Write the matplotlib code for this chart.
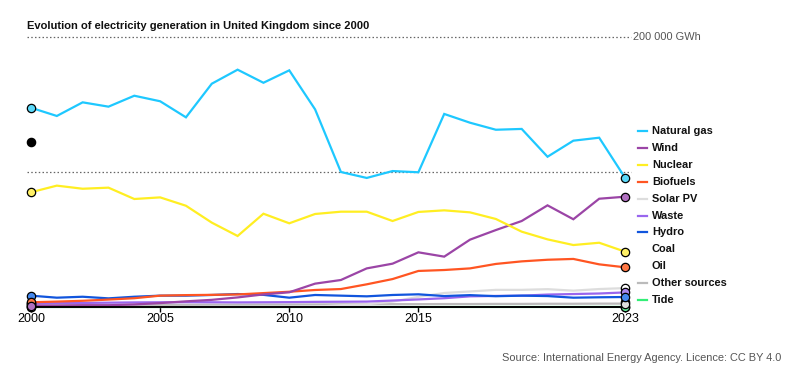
import matplotlib
matplotlib.use("Agg")
import matplotlib.pyplot as plt
from matplotlib.lines import Line2D
import numpy as np

plt.rcParams['font.family'] = ['Liberation Sans', 'DejaVu Sans']

years = list(range(2000, 2024))

# TWh (x1000 -> GWh below)
natural_gas = [147.6, 141.5, 151.6, 148.4, 156.5, 152.4, 140.5, 165.4, 175.8, 166.1, 175.3, 146.4,
               100.0, 95.6, 100.7, 99.8, 143.0, 136.5, 131.3, 131.9, 111.3, 123.2, 125.4, 95.8]
wind = [0.9, 1.0, 1.3, 1.3, 1.9, 2.9, 4.2, 5.3, 7.1, 9.3, 10.9, 17.3,
        20.0, 28.6, 32.1, 40.5, 37.3, 49.9, 57.0, 63.7, 75.3, 65.0, 80.2, 81.7]
nuclear = [85.0, 89.9, 87.6, 88.4, 80.0, 81.2, 75.0, 62.5, 52.6, 69.1, 62.0, 68.9,
           70.6, 70.6, 63.7, 70.4, 71.6, 70.1, 65.2, 55.8, 50.1, 45.9, 47.6, 41.0]
biofuels = [3.5, 4.0, 4.6, 5.5, 6.5, 8.4, 8.8, 9.0, 9.3, 10.3, 11.3, 12.6,
            13.3, 16.8, 20.7, 26.7, 27.4, 28.6, 31.9, 33.8, 35.0, 35.6, 31.6, 29.4]
solar_pv = [0, 0, 0, 0, 0, 0, 0, 0, 0, 0, 0.04, 0.24,
            1.35, 2.0, 4.0, 7.5, 10.4, 11.5, 12.7, 12.7, 13.2, 12.1, 13.3, 14.0]
waste = [2.5, 2.8, 3.0, 3.2, 3.4, 3.5, 3.6, 3.5, 3.4, 3.5, 3.6, 3.8,
         3.9, 4.0, 4.8, 5.6, 6.5, 7.9, 8.2, 8.4, 9.2, 9.6, 10.0, 10.8]
hydro = [8.4, 6.9, 7.6, 6.4, 7.6, 8.4, 8.4, 8.9, 9.6, 9.0, 6.9, 8.9,
         8.4, 7.9, 8.9, 9.4, 8.1, 8.8, 8.0, 8.4, 8.1, 6.9, 7.2, 7.4]
coal = [122, 131, 124, 138, 133, 135, 148, 136, 125, 103, 108, 109,
        143, 130, 100, 76, 31, 23, 17, 7, 5.5, 6.4, 5.0, 3.6]
oil = [2.6, 1.6, 1.5, 1.2, 1.1, 1.3, 1.5, 1.2, 1.6, 1.4, 1.0, 0.9,
       0.8, 0.6, 0.6, 0.6, 0.6, 0.6, 0.5, 0.4, 0.4, 0.3, 0.3, 0.3]
other = [1.2, 1.3, 1.4, 1.5, 1.5, 1.6, 1.6, 1.7, 1.7, 1.8, 1.8, 1.9,
         2.0, 2.0, 2.1, 2.1, 2.2, 2.2, 2.3, 2.3, 2.4, 2.4, 2.5, 2.5]
tide = [0] * 16 + [0.01, 0.01, 0.01, 0.01, 0.01, 0.02, 0.03, 0.03]

names = ["Natural gas", "Wind", "Nuclear", "Biofuels", "Solar PV", "Waste", "Hydro",
         "Coal", "Oil", "Other sources", "Tide"]
series = [natural_gas, wind, nuclear, biofuels, solar_pv, waste, hydro, coal, oil, other, tide]
line_col = ["#1ec8ff", "#9b45a6", "#ffee22", "#ff5522", "#dddddd", "#9966ee", "#1155dd",
            "white", "white", "#bbbbbb", "#33ee77"]
dot_col = ["#5ad8f8", "#b070c0", "#fff066", "#ff7744", "#ffffff", "#aa88ee", "#4488ee",
           "#000000", "#333333", "#dddddd", "#66ee99"]
zord = [10, 9, 9, 8, 6, 7, 7, 2, 2, 5, 4]

fig = plt.figure(figsize=(8, 3.72), dpi=100)
ax = fig.add_axes([31 / 800, 1 - 307 / 372, 594 / 800, 270 / 372])
ax.set_xlim(2000, 2023)
ax.set_ylim(0, 200000)

for vals, col, z in zip(series, line_col, zord):
    ax.plot(years, np.array(vals) * 1000, color=col, lw=1.6, zorder=z, clip_on=False,
            solid_joinstyle='miter')

# dotted reference lines
for yv in [100000, 200000]:
    ax.hlines(yv, 1999.85, 2023.25, colors="#666666", linestyles=(0, (1.2, 1.8)), lw=0.9,
              zorder=3, clip_on=False)
ax.text(2023.3, 200000, "200 000 GWh", fontsize=7.9, color="#555555", va="center", ha="left")

# end markers
for vals, col, z in zip(series, dot_col, zord):
    ax.plot([years[0], years[-1]], [vals[0] * 1000, vals[-1] * 1000], 'o', ms=6,
            mfc=col, mec="black", mew=0.9, zorder=20 + z, clip_on=False)

for s in ["top", "right", "left"]:
    ax.spines[s].set_visible(False)
ax.spines["bottom"].set_linewidth(1.4)
ax.spines["bottom"].set_zorder(15)
ax.set_yticks([])
ax.set_xticks([2000, 2005, 2010, 2015, 2023])
ax.tick_params(axis="x", direction="out", length=3.8, width=1, labelsize=9, pad=0.8)

# legend
for i, (nm, col) in enumerate(zip(names, line_col)):
    yy = 1 - (131 + i * 16.9) / 372
    fig.add_artist(Line2D([638 / 800, 647 / 800], [yy, yy], color=col, lw=1.6))
    fig.text(652 / 800, yy, nm, fontsize=7.9, fontweight="bold", va="center", ha="left",
             color="#111111")

fig.text(27 / 800, 1 - 29 / 372, "Evolution of electricity generation in United Kingdom since 2000",
         fontsize=8.05, fontweight="bold", va="baseline", ha="left", color="#111111")
fig.text(781 / 800, 1 - 358 / 372, "Source: International Energy Agency. Licence: CC BY 4.0",
         fontsize=7.9, color="#555555", va="center", ha="right")

fig.savefig("out.png", dpi=100)
